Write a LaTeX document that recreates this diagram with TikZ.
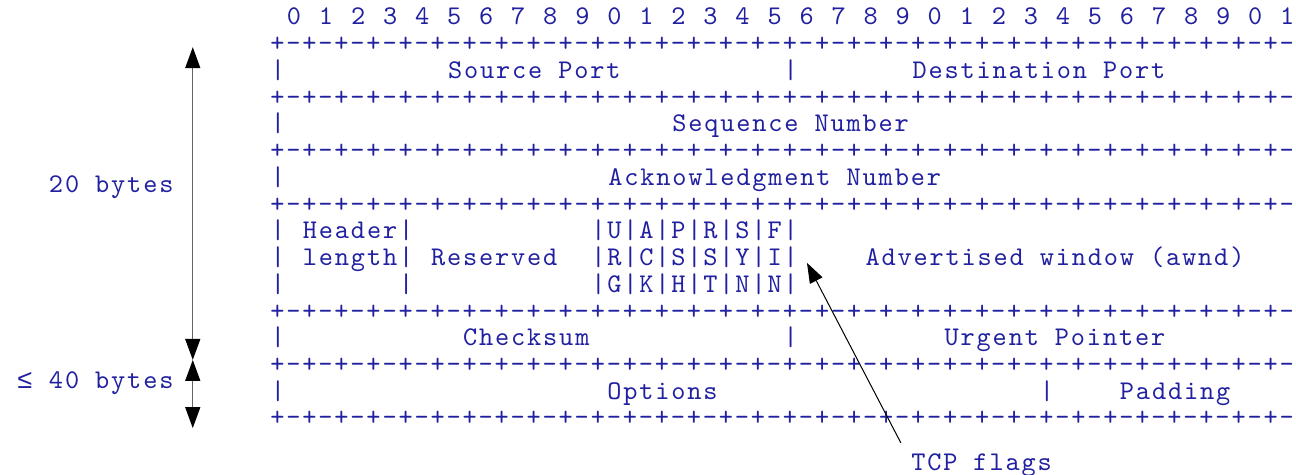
\documentclass[tikz,border=0pt]{standalone}
\usepackage{fontspec}
\usepackage{xcolor}
\usetikzlibrary{arrows.meta}
\newfontfamily\asciifont{lmmono10-regular.otf}[LetterSpace=6.83]
\newfontfamily\symfont{Liberation Mono}
\definecolor{rfcblue}{RGB}{32,32,160}
\definecolor{rulegray}{RGB}{100,100,100}
\tikzset{
    ascii/.style = {text=rfcblue, font=\asciifont\fontsize{13.5pt}{13.365pt}\selectfont, inner sep=0pt, anchor=base},
    size-arrow/.style = {draw=rulegray, line width=0.7pt, {Triangle[length=10.5pt,width=7.5pt,color=black]}-{Triangle[length=10.5pt,width=7.5pt,color=black]}},
    flag-arrow/.style = {draw=black, line width=0.5pt, -{Triangle[length=10pt,width=7pt]}},
}
\newcommand{\sepline}{\foreach \k in {1,...,32}{+-}}

\begin{document}
\begin{tikzpicture}[x=8.01pt, y=-13.365pt]
\useasboundingbox (-17.353,-0.935) rectangle (63.546,16.835);
\foreach \i in {0,...,31} {
    \pgfmathtruncatemacro{\d}{mod(\i,10)}
    \node[ascii] (bit-\i) at (2*\i+1,0) {\d};
}
\foreach \r in {1,3,5,7,11,13,15}
    \node[ascii, anchor=base west] (sep-\r) at (-0.5,\r) {\sepline};
\foreach \c/\r in {0/2,32/2,0/4,0/6,0/12,32/12,0/14,48/14}
    \node[ascii] (bar-\c-\r) at (\c,\r) {|};
\foreach \r in {8,9,10}
    \foreach \c in {0,8}
        \node[ascii] (bar-\c-\r) at (\c,\r) {|};
\node[ascii] (flags-a) at (26,8) {|U|A|P|R|S|F|};
\node[ascii] (flags-b) at (26,9) {|R|C|S|S|Y|I|};
\node[ascii] (flags-c) at (26,10) {|G|K|H|T|N|N|};
\node[ascii] (src) at (16,2) {Source Port};
\node[ascii] (dst) at (47.5,2) {Destination Port};
\node[ascii] (seq) at (32,4) {Sequence Number};
\node[ascii] (ack) at (31,6) {Acknowledgment Number};
\node[ascii] (hlen-a) at (4.5,8) {Header};
\node[ascii] (hlen-b) at (4.5,9) {length};
\node[ascii] (rsv) at (13.5,9) {Reserved};
\node[ascii] (awnd) at (48.5,9) {Advertised window (awnd)};
\node[ascii] (csum) at (15.5,12) {Checksum};
\node[ascii] (urg) at (48.5,12) {Urgent Pointer};
\node[ascii] (opt) at (24,14) {Options};
\node[ascii] (pad) at (56,14) {Padding};

\node[ascii, anchor=base east] (fixed) at (-6.5,6.25) {20 bytes};
\node[ascii, anchor=base east] (optional) at (-6.5,13.6) {{\symfont\fontsize{13.35pt}{13.365pt}\selectfont ≤} 40 bytes};
\coordinate (hdr-top) at (-5.32,0.83);
\coordinate (hdr-end) at (-5.32,12.53);
\coordinate (opt-end) at (-5.32,15.08);
\draw[size-arrow] (hdr-top) -- (hdr-end);
\draw[size-arrow] (hdr-end) -- (opt-end);

\node[ascii, anchor=base west, inner sep=5pt] (tcp-flags) at (38.88,16.65) {TCP flags};
\coordinate (flag-tip) at (33.02,8.9);
\draw[flag-arrow] (tcp-flags.north west) -- (flag-tip);
\end{tikzpicture}
\end{document}
